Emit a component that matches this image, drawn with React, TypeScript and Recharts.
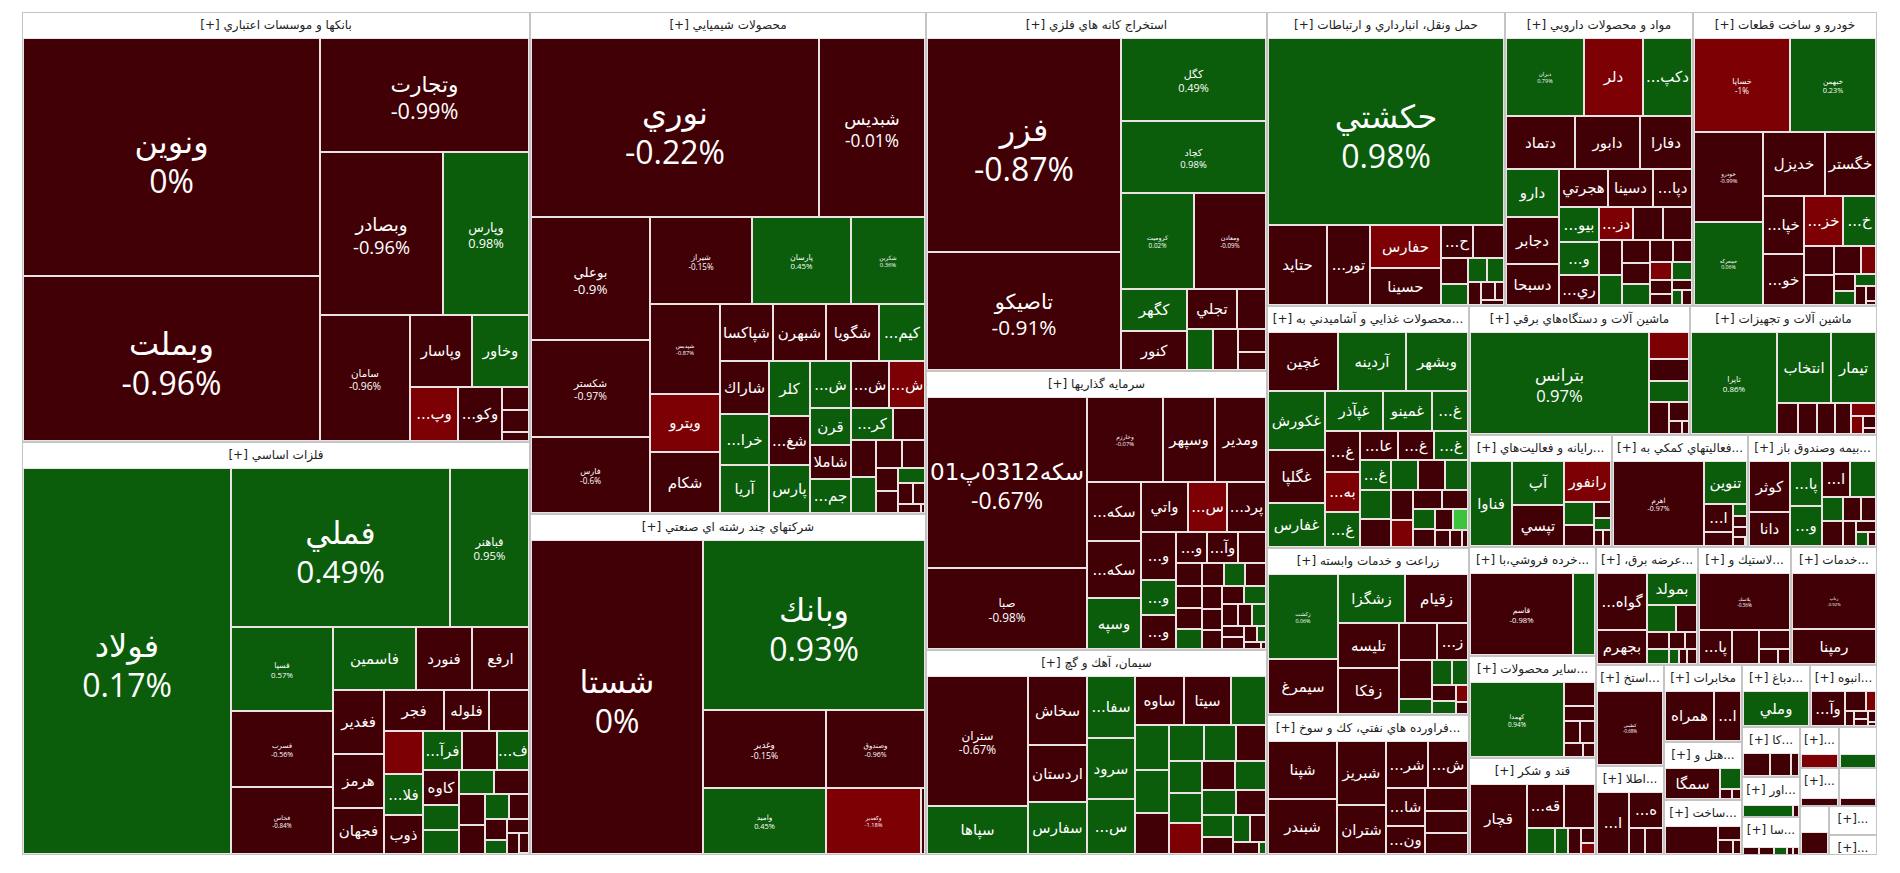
import React from 'react';
import { Treemap } from 'recharts';

type Stock = [string, number, number]; // [symbol, weight, change %]

const banks: Stock[] = [
  ['ونوين', 70389, 0], ['وبملت', 49005, -0.96], ['وتجارت', 23712, -0.99], ['وبصادر', 20049, -0.96],
  ['وپارس', 13855, 0.98], ['سامان', 11340, -0.96], ['وپاسار', 4464, -0.45], ['وخاور', 4032, 0.62],
  ['وپستبانك', 2592, -1.6], ['وكوثرين', 2376, -0.7], ['', 624, -0.5], ['', 598, -0.3], ['', 182, -0.2],
];
const metals: Stock[] = [
  ['فولاد', 78720, 0.17], ['فملي', 34255, 0.49], ['فباهنر', 12245, 0.95], ['فسپا', 8415, 0.57],
  ['فسرب', 7623, -0.56], ['فخاس', 6633, -0.84], ['فاسمين', 5160, 0.41], ['فنورد', 3480, -0.62],
  ['ارفع', 3420, -0.48], ['فغدير', 3185, -0.71], ['هرمز', 2695, -0.39], ['فجهان', 2401, -0.83],
  ['فجر', 2400, -0.28], ['فلوله', 1800, -0.52], ['', 1700, -0.6], ['', 1650, -1.8], ['فلامي', 1560, 0.52],
  ['ذوب', 1560, -0.44], ['فرآور', 1482, 0.33], ['', 1326, -0.61], ['فمراد', 1300, 0.46], ['كاوه', 1250, -0.35],
  ['', 900, 0.4], ['', 850, 0.3], ['', 820, 0.5], ['', 800, -0.4], ['', 780, -0.5], ['', 760, -0.6],
  ['', 600, 0.3], ['', 500, -0.4], ['', 450, -0.3], ['', 300, 0.4], ['', 300, -0.5], ['', 250, -0.2],
  ['', 200, -0.6], ['', 150, 0.2],
];
const chemicals: Stock[] = [
  ['نوري', 49938, -0.22], ['شبديس', 18270, -0.01], ['بوعلي', 14145, -0.9], ['شكستر', 11155, -0.97],
  ['فارس', 8740, -0.6], ['شيراز', 8568, -0.15], ['پارسان', 8316, 0.45], ['شكربن', 6216, 0.36],
  ['شپديس', 6097, -0.87], ['ويترو', 3953, -1.52], ['شكام', 4087, -0.44], ['شپاكسا', 2916, -0.38],
  ['شبهرن', 2916, -0.27], ['شگويا', 2916, -0.55], ['كيميدارو', 2538, 0.48], ['شاراك', 2530, -0.41],
  ['خراسان', 2438, 0.63], ['آريا', 2300, 0.71], ['كلر', 2200, 0.52], ['شغدير', 1950, -0.36],
  ['پارس', 1850, 0.44], ['شخارك', 1850, 0.58], ['شفارس', 1720, -0.47], ['شسپا', 1634, -1.31],
  ['قرن', 1462, 0.39], ['شاملا', 1368, -0.42], ['جمپيلن', 1368, 0.35], ['كرماشا', 1296, 0.47],
  ['', 1000, -0.5], ['', 900, -0.4], ['', 850, 0.3], ['', 700, -0.6], ['', 650, -0.3], ['', 500, -0.5],
  ['', 450, -0.4], ['', 400, 0.2], ['', 300, -0.6], ['', 250, -0.3], ['', 200, -0.5], ['', 150, -0.4],
  ['', 100, -0.2],
];
const multi: Stock[] = [
  ['شستا', 53181, 0], ['وبانك', 37128, 0.93], ['وغدير', 9394, -0.15], ['واميد', 8052, 0.45],
  ['وصندوق', 7623, -0.96], ['وكغدير', 6204, -1.18], ['', 330, -0.5],
];
const mining: Stock[] = [
  ['فزر', 41322, -0.87], ['تاصيكو', 22892, -0.91], ['كگل', 12035, 0.49], ['كچاد', 10440, 0.98],
  ['كروميت', 7008, 0.02], ['ومعادن', 6912, -0.09], ['كگهر', 2747, 0.42], ['كنور', 2546, -0.5],
  ['تجلي', 2009, -0.63], ['', 1148, -0.4], ['', 1064, 0.3], ['', 1026, -0.5], ['', 644, -0.3], ['', 230, -0.4],
];
const investment: Stock[] = [
  ['سكه0312پ01', 27200, -0.67], ['صبا', 12800, -0.98], ['وخارزم', 6384, -0.07], ['وسپهر', 4368, -0.52],
  ['ومدير', 4284, -0.61], ['سكه1212پ01', 3186, -0.43], ['سكه0612پ01', 3078, -0.5], ['وسپه', 2700, 0.48],
  ['واتي', 2350, -0.4], ['ستاره', 1950, -1.42], ['پرديس', 1900, -0.55], ['وتوسم', 1680, -0.41],
  ['وصنعت', 1225, 0.31], ['ونيكي', 1120, -0.52], ['ورناي', 961, -0.33], ['وآتوس', 961, -0.6], ['', 837, -0.4],
  ['', 600, -0.5], ['', 560, -0.4], ['', 540, -0.6], ['', 520, 0.3], ['', 500, -0.5], ['', 480, 0.4],
  ['', 460, -0.4], ['', 450, -0.4], ['', 420, -0.5], ['', 400, -0.3], ['', 400, -0.5], ['', 380, 0.2],
  ['', 350, -0.4], ['', 300, -0.6], ['', 300, 0.3], ['', 250, -0.3], ['', 250, -0.4], ['', 200, -0.5],
  ['', 150, 0.3], ['', 120, -0.4], ['', 100, -0.5],
];
const cement: Stock[] = [
  ['ستران', 12500, -0.67], ['سپاها', 4700, 0.51], ['سخاش', 3900, -0.42], ['اردستان', 3200, -0.5],
  ['سفارس', 2900, 0.6], ['سفانوكار', 2852, 0.44], ['سرود', 2806, 0.7], ['سشمالي', 2438, 0.52],
  ['ساوه', 2300, -0.3], ['سيتا', 2208, -0.5], ['', 1564, 0.4], ['', 1450, 0.5], ['', 1400, 0.6],
  ['', 1350, -0.4], ['', 1200, 0.3], ['', 1100, 0.5], ['', 1050, -0.5], ['', 1000, 0.4], ['', 950, 0.6],
  ['', 950, -1.5], ['', 900, -0.4], ['', 850, 0.3], ['', 800, 0.5], ['', 700, -0.6], ['', 650, 0.4],
  ['', 500, -0.5], ['', 450, 0.3], ['', 400, -0.4], ['', 300, -0.3], ['', 250, 0.2],
];
const transport: Stock[] = [
  ['حكشتي', 43758, 0.98], ['حتايد', 4720, -0.6], ['توريسم', 3440, -0.5], ['حفارس', 3010, -1.3],
  ['حسينا', 2590, -0.6], ['حآسا', 1050, -0.4], ['', 1015, -0.5], ['', 700, -0.6], ['', 550, 0.4],
  ['', 450, 0.5], ['', 400, 0.3], ['', 300, -0.4], ['', 250, -0.5], ['', 150, -0.2], ['', 130, -0.4],
];
const pharma: Stock[] = [
  ['ديران', 6162, 0.79], ['دلر', 4661, -1.4], ['دكپسول', 3871, 0.5], ['دتماد', 3657, -0.5],
  ['دابور', 3445, -0.6], ['دفارا', 2756, -0.4], ['دارو', 2538, 0.5], ['دجابر', 2484, -0.5],
  ['دسبحا', 2214, -0.6], ['هجرتي', 1872, -0.5], ['دسينا', 1716, -0.4], ['دپارس', 1560, -0.6],
  ['بيوتيك', 1428, 0.5], ['وپخش', 1344, 0.4], ['ريشمك', 1218, -0.5], ['دزهراوي', 1122, -1.3],
  ['', 986, -0.5], ['', 952, -0.6], ['', 800, -0.4], ['', 700, 0.3], ['', 650, -0.5], ['', 600, -0.4],
  ['', 550, 0.4], ['', 500, -0.5], ['', 450, -0.3], ['', 400, -1.2], ['', 350, 0.3], ['', 300, -0.4],
  ['', 250, -0.5], ['', 200, -0.3], ['', 150, 0.2], ['', 120, -0.4],
];
const auto: Stock[] = [
  ['خساپا', 8930, -1], ['خبهمن', 7896, 0.23], ['خودرو', 6120, -0.99], ['خمحركه', 5644, 0.06],
  ['خديزل', 3904, -0.5], ['خگستر', 3200, -0.6], ['خپارس', 2360, -0.4], ['خوساز', 2000, -0.5],
  ['خزاميا', 1900, -1.5], ['خچرخش', 1650, 0.4], ['', 870, -0.4], ['', 870, -0.5], ['', 756, -0.3],
  ['', 400, -1.3], ['', 350, -0.5], ['', 300, 0.3], ['', 250, 0.4], ['', 200, -0.4], ['', 150, -0.5], ['', 100, -0.3],
];
const food: Stock[] = [
  ['غچين', 4130, -0.5], ['آردينه', 4012, 0.6], ['وبشهر', 3599, 0.5], ['غكورش', 3363, 0.4],
  ['غگلپا', 3021, -0.4], ['غفارس', 2451, 0.5], ['غپآذر', 2320, 0.6], ['غمينو', 1960, 0.3],
  ['غشهد', 1400, 0.4], ['غدام', 1440, -0.5], ['بهپاك', 1404, -1.3], ['غنوش', 1224, 0.5],
  ['عاليس', 1110, -0.4], ['غبهنوش', 1050, -0.5], ['غمارگ', 1020, 0.4], ['غسالم', 928, 0.3],
  ['', 900, 0.4], ['', 880, -0.5], ['', 820, 0.3], ['', 800, -0.4], ['', 700, 0.5], ['', 650, -0.6],
  ['', 600, -1.3], ['', 550, -0.4], ['', 500, -0.5], ['', 450, 0.3], ['', 400, -0.4], ['', 380, -0.3],
  ['', 300, 2.8], ['', 250, -0.5], ['', 200, -0.4], ['', 150, -0.6], ['', 100, -0.3],
];
const agriculture: Stock[] = [
  ['زكشت', 5810, 0.06], ['سيمرغ', 3780, -0.5], ['زشگزا', 3234, 0.6], ['زقيام', 3038, -0.4],
  ['تليسه', 2709, -0.5], ['زفكا', 2700, -0.6], ['', 1365, -0.4], ['زملارد', 1170, -0.5], ['', 1248, -0.3],
  ['', 500, 0.4], ['', 500, 0.3], ['', 400, 0.5], ['', 380, -0.4], ['', 300, 0.3], ['', 200, -1.4], ['', 150, -0.5],
];
const refinery: Stock[] = [
  ['شپنا', 3944, -0.5], ['شبندر', 3740, -0.6], ['شبريز', 3087, -0.4], ['شتران', 2450, -0.5],
  ['شرانل', 1974, -0.4], ['شنفت', 1833, -0.6], ['شاوان', 1482, -0.5], ['ونفت', 1092, -0.4],
  ['', 966, -0.5], ['', 924, -0.6], ['', 882, -0.4],
];
const electrical: Stock[] = [
  ['بترانس', 17150, 0.97], ['', 1008, -1.4], ['', 840, -0.5], ['', 798, 0.4], ['', 616, -0.5],
  ['', 360, -0.6], ['', 160, -0.4], ['', 100, -0.3],
];
const machinery: Stock[] = [
  ['تايرا', 8428, 0.86], ['انتخاب', 3640, 0.5], ['تيمار', 3080, 0.4], ['', 616, -0.5], ['', 560, -0.4],
  ['', 520, -0.6], ['', 480, -0.5], ['', 300, -1.3], ['', 200, -1.2], ['', 150, -0.4], ['', 100, -0.3],
];
const computer: Stock[] = [
  ['فناوا', 3600, 0.5], ['آپ', 2288, 0.4], ['تپسي', 2100, -0.6], ['رانفور', 1950, -1.3],
  ['', 700, 0.4], ['', 630, -0.5], ['', 275, -0.4], ['', 200, 0.3], ['', 150, -0.5], ['', 100, -0.4],
];
const auxiliary: Stock[] = [
  ['اهرم', 7387, -0.97], ['تنوين', 1760, 0.5], ['اطلس', 784, -0.4], ['', 364, -0.5], ['', 160, 0.3],
  ['', 150, -0.4], ['', 130, -0.5], ['', 100, -0.3], ['', 80, 0.3],
];
const insurance: Stock[] = [
  ['كوثر', 1950, -0.5], ['دانا', 1287, -0.4], ['پارسيا', 1333, 0.5], ['ومعلم', 1240, 0.4],
  ['اتكاي', 952, -0.5], ['', 850, 0.3], ['', 476, 0.4], ['', 468, -0.5], ['', 400, -0.4], ['', 350, -0.5],
  ['', 300, -0.3], ['', 200, -0.4], ['', 150, 0.3], ['', 100, -0.5],
];
const retail: Stock[] = [['قاسم', 8282, -0.98], ['', 1722, 0.5]];
const nonMetal: Stock[] = [
  ['كهمدا', 6808, 0.94], ['', 713, -0.5], ['', 460, -0.4], ['', 340, -0.6], ['', 310, -0.3], ['', 253, -0.5], ['', 187, -0.4],
];
const sugar: Stock[] = [
  ['قچار', 3795, -0.5], ['قهكمت', 1554, -0.4], ['', 1302, -0.6], ['', 702, 0.4], ['', 336, 0.3],
  ['', 324, -0.5], ['', 200, -0.4], ['', 180, -1.4],
];
const electricity: Stock[] = [
  ['گواهيبرق', 2850, -0.5], ['بجهرم', 1700, -0.4], ['بمولد', 1617, 0.5], ['', 784, 0.4], ['', 588, -0.5],
  ['', 384, -0.4], ['', 325, 0.3], ['', 280, -0.5], ['', 200, -0.3], ['', 150, 0.4], ['', 120, -0.4], ['', 100, -0.5],
];
const rubber: Stock[] = [
  ['پلاسك', 5073, -0.36], ['پاكشو', 1088, -0.5], ['', 884, -0.4], ['', 589, -0.5], ['', 285, -0.3], ['', 180, -0.4],
];
const services: Stock[] = [['رتاپ', 4617, -0.92], ['رمپنا', 2835, -0.5]];
const otherMining: Stock[] = [['كطبس', 4672, -0.68]];
const infoComm: Stock[] = [['انيرو', 1891, -0.5], ['همكار', 1152, -0.4], ['', 400, -0.5], ['', 400, -0.3]];
const telecom: Stock[] = [['همراه', 2400, -0.5], ['اخابر', 1350, -0.4]];
const hotels: Stock[] = [['سمگا', 1674, -0.5], ['', 440, 0.4], ['', 120, -0.4], ['', 100, -0.5]];
const metalProducts: Stock[] = [['', 1375, -0.5], ['', 300, -0.4], ['', 200, -0.5], ['', 100, -0.3]];
const leather: Stock[] = [['وملي', 2178, 0.5]];
const housing: Stock[] = [
  ['وآفرين', 1089, -0.5], ['', 396, -0.4], ['', 162, -1.3], ['', 120, -0.5], ['', 100, -0.4],
  ['', 90, -0.5], ['', 80, -0.3], ['', 60, -0.4],
];
const tiles: Stock[] = [['', 621, -0.5], ['', 483, -0.4], ['', 161, -0.6]];
const bonds: Stock[] = [['', 637, 0.5], ['', 78, -0.5]];
const otherFinance: Stock[] = [['', 160, -0.5], ['', 150, -0.4], ['', 130, 0.4], ['', 60, -0.5], ['', 50, -0.3]];
const paper: Stock[] = [['', 481, -1.4]];
const textiles: Stock[] = [['', 440, 0.5]];
const wood: Stock[] = [['', 300, -0.5]];
const contracting: Stock[] = [['', 300, -0.4]];
const etf: Stock[] = [['', 625, -0.5]];
const arts: Stock[] = [['', 260, -0.4], ['', 40, -0.5]];
const wholesale: Stock[] = [['', 312, -0.5]];

const SECTORS: { name: string; size: number; stocks: Stock[] }[] = [
  { name: 'بانكها و موسسات اعتباري', size: 218440, stocks: banks },
  { name: 'فلزات اساسي', size: 209804, stocks: metals },
  { name: 'محصولات شيميايي', size: 198792, stocks: chemicals },
  { name: 'شركتهاي چند رشته اي صنعتي', size: 135036, stocks: multi },
  { name: 'استخراج كانه هاي فلزي', size: 122419, stocks: mining },
  { name: 'سرمايه گذاريها', size: 95139, stocks: investment },
  { name: 'سيمان، آهك و گچ', size: 70100, stocks: cement },
  { name: 'حمل ونقل، انبارداري و ارتباطات', size: 70000, stocks: transport },
  { name: 'مواد و محصولات دارويي', size: 55460, stocks: pharma },
  { name: 'خودرو و ساخت قطعات', size: 54280, stocks: auto },
  { name: 'محصولات غذايي و آشاميدني به جز قند و شكر', size: 48923, stocks: food },
  { name: 'زراعت و خدمات وابسته', size: 33698, stocks: agriculture },
  { name: 'فراورده هاي نفتي، كك و سوخت هسته اي', size: 28623, stocks: refinery },
  { name: 'ماشين آلات و دستگاه‌هاي برقي', size: 28500, stocks: electrical },
  { name: 'ماشين آلات و تجهيزات', size: 24000, stocks: machinery },
  { name: 'رايانه و فعاليت‌هاي وابسته به آن', size: 16016, stocks: computer },
  { name: 'فعاليتهاي كمكي به نهادهاي مالي واسط', size: 15232, stocks: auxiliary },
  { name: 'بيمه وصندوق بازنشستگي به جزتامين اجتماعي', size: 14336, stocks: insurance },
  { name: 'خرده فروشي،باستثناي وسايل نقليه موتوري', size: 13860, stocks: retail },
  { name: 'ساير محصولات كاني غيرفلزي', size: 12978, stocks: nonMetal },
  { name: 'قند و شكر', size: 12400, stocks: sugar },
  { name: 'عرضه برق، گاز، بخاروآب گرم', size: 12100, stocks: electricity },
  { name: 'لاستيك و پلاستيك', size: 10948, stocks: rubber },
  { name: 'خدمات فني و مهندسي', size: 10234, stocks: services },
  { name: 'استخراج ساير معادن', size: 6868, stocks: otherMining },
  { name: 'اطلاعات و ارتباطات', size: 6120, stocks: infoComm },
  { name: 'مخابرات', size: 6006, stocks: telecom },
  { name: 'هتل و رستوران', size: 4543, stocks: hotels },
  { name: 'ساخت محصولات فلزي', size: 4300, stocks: metalProducts },
  { name: 'دباغي، پرداخت چرم و ساخت انواع پاپوش', size: 4200, stocks: leather },
  { name: 'انبوه سازي، املاك و مستغلات', size: 4150, stocks: housing },
  { name: 'كاشي و سراميك', size: 2907, stocks: tiles },
  { name: 'اوراق تامين مالي', size: 2337, stocks: bonds },
  { name: 'ساير واسطه گريهاي مالي', size: 2166, stocks: otherFinance },
  { name: 'محصولات كاغذي', size: 1600, stocks: paper },
  { name: 'منسوجات', size: 1560, stocks: textiles },
  { name: 'محصولات چوبي', size: 1480, stocks: wood },
  { name: 'پيمانكاري صنعتي', size: 1443, stocks: contracting },
  { name: 'صندوق سرمايه گذاري قابل معامله', size: 1431, stocks: etf },
  { name: 'فعاليت‌هاي هنري', size: 1378, stocks: arts },
  { name: 'تجارت عمده فروشي', size: 1378, stocks: wholesale },
];

const AR_FONT = "'DejaVu Sans', sans-serif";
const NUM_FONT = "'Open Sans', 'DejaVu Sans', sans-serif";
const GREEN = '#0b5c0b';
const MAROON = '#410006';
const RED = '#7c0004';
const LIME = '#3cc43c';
const GAP = '#ebe3e3';
const BORDER = '#c4c4c4';
const HEADER_H = 26;

const STOCK_DATA = new Map(
  SECTORS.map((s) => [s.name, s.stocks.map(([name, size, chg]) => ({ name, size, chg }))])
);

let ctx: CanvasRenderingContext2D | null = null;
function measure(text: string, size: number, family: string = AR_FONT): number {
  if (!ctx && typeof document !== 'undefined') ctx = document.createElement('canvas').getContext('2d');
  if (!ctx) return text.length * size * 0.55;
  ctx.font = `${size}px ${family}`;
  return ctx.measureText(text).width;
}

function colorOf(c: number): string {
  if (c >= 2) return LIME;
  if (c > 0) return GREEN;
  if (c <= -1) return RED;
  return MAROON;
}

function headerLabel(name: string, w: number): string {
  const avail = w - 8;
  const full = name + ' [+]';
  if (measure(full, 12) <= avail) return full;
  for (let k = name.length - 1; k >= 1; k--) {
    const s = '...' + name.slice(0, k).trim() + ' [+]';
    if (measure(s, 12) <= avail) return s;
  }
  if (measure('...[+]', 12) <= avail) return '...[+]';
  return '';
}

function fitName(name: string, w: number, size: number): string {
  if (measure(name, size) <= w - 6) return name;
  for (let k = name.length - 1; k >= 1; k--) {
    const s = name.slice(0, k) + '...';
    if (measure(s, size) <= w - 5) return s;
  }
  return name.slice(0, 1) + '...';
}

function StockCell(props: any) {
  const { x, y, width: w, height: h, depth, name, chg, index } = props;
  if (depth !== 1 || !(w > 0) || !(h > 0)) return null;
  const area = w * h;
  const cx = x + w / 2;
  const cy = y + h / 2;
  let label: React.ReactNode = null;
  if (name) {
    if (area >= 5500 || (index === 0 && area >= 4500)) {
      let f = Math.min(32, area / 1100);
      const pct = `${chg}%`;
      const tw = Math.max(measure(name, f), measure(pct, f, NUM_FONT));
      if (tw > w - 6) f = (f * (w - 6)) / tw;
      label = (
        <g>
          <text x={cx} y={cy - f * 0.12} textAnchor="middle" direction="rtl" fill="#fff" fontSize={f} fontFamily={AR_FONT}>
            {name}
          </text>
          <text x={cx} y={cy + f * 1.13} textAnchor="middle" fill="#fff" fontSize={f} fontFamily={NUM_FONT}>
            {pct}
          </text>
        </g>
      );
    } else if (w >= 20 && h >= 18) {
      const fs = 15;
      label = (
        <text x={cx} y={cy + 5} textAnchor="middle" direction="rtl" fill="#fff" fontSize={fs} fontFamily={AR_FONT}>
          {fitName(name, w, fs)}
        </text>
      );
    }
  }
  return (
    <g>
      <rect x={x} y={y} width={w} height={h} fill={colorOf(chg)} stroke={GAP} strokeWidth={2} />
      {label}
    </g>
  );
}

function SectorNode(props: any) {
  const { x, y, width, height, depth, name } = props;
  if (depth !== 1 || !(width > 0) || !(height > 0)) return null;
  const data = STOCK_DATA.get(name) || [];
  const innerW = Math.max(0, Math.round(width - 2));
  const innerH = Math.max(0, Math.round(height - HEADER_H - 1));
  return (
    <g>
      <rect x={x + 0.5} y={y + 0.5} width={Math.max(0, width - 1)} height={Math.max(0, height - 1)} fill="#fff" stroke={BORDER} strokeWidth={1} />
      <text x={x + width / 2} y={y + 17} textAnchor="middle" direction="rtl" fill="#222" fontSize={12} fontFamily={AR_FONT}>
        {headerLabel(name, width)}
      </text>
      {innerW > 0 && innerH > 0 && (
        <foreignObject x={x + 1} y={y + HEADER_H} width={innerW} height={innerH}>
          <div style={{ width: innerW, height: innerH }}>
            <Treemap
              width={innerW}
              height={innerH}
              data={data}
              dataKey="size"
              aspectRatio={1}
              isAnimationActive={false}
              content={<StockCell />}
            />
          </div>
        </foreignObject>
      )}
    </g>
  );
}

export default function App() {
  const data = SECTORS.map((s) => ({ name: s.name, size: s.size }));
  return (
    <div style={{ paddingLeft: 14, paddingTop: 4, fontFamily: AR_FONT }}>
      <Treemap
        width={1855}
        height={843}
        data={data}
        dataKey="size"
        aspectRatio={1}
        isAnimationActive={false}
        content={<SectorNode />}
      />
    </div>
  );
}
